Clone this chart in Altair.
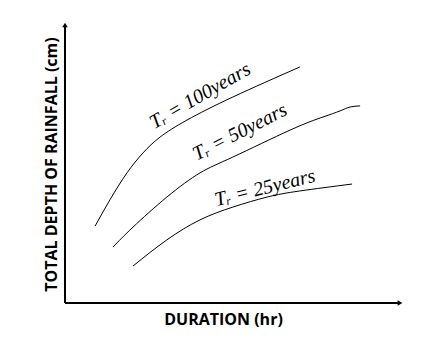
import altair as alt
import pandas as pd

# Curve values (duration, depth), arbitrary units 0-10
x100 = [0.90, 1.34, 1.85, 2.33, 2.84, 3.64, 5.01, 7.01]
y100 = [2.77, 3.71, 4.68, 5.40, 5.97, 6.58, 7.41, 8.49]
x50 = [1.43, 2.03, 3.04, 4.03, 5.01, 6.72, 7.70, 8.21, 8.51, 8.81]
y50 = [2.01, 2.73, 3.81, 4.68, 5.25, 6.22, 6.69, 6.91, 7.05, 7.09]
x25 = [2.03, 3.04, 4.03, 5.01, 6.03, 7.01, 8.57]
y25 = [1.33, 2.27, 2.99, 3.45, 3.81, 4.03, 4.28]

labels = ["Tᵣ = 100years", "Tᵣ = 50years", "Tᵣ = 25years"]
label_x = [4.03, 5.22, 5.97]
label_y = [7.45, 6.15, 4.14]
label_angle = [330, 333, 346]

rows = []
for name, xs, ys in [("100", x100, y100), ("50", x50, y50), ("25", x25, y25)]:
    for i, (a, b) in enumerate(zip(xs, ys)):
        rows.append({"series": name, "order": i, "x": a, "y": b})
curves = pd.DataFrame(rows)

lab = pd.DataFrame({"text": labels, "x": label_x, "y": label_y, "angle": label_angle})

xs = alt.Scale(domain=[0, 10], nice=False, zero=False)
ys = alt.Scale(domain=[0, 10], nice=False, zero=False)

xaxis = alt.Axis(title="DURATION (hr)", domain=False, ticks=False, labels=False, grid=False,
                 titleFont="Open Sans", titleFontSize=16, titleFontWeight="bold",
                 titleColor="black", titlePadding=8, titleX=158, titleAlign="center")
yaxis = alt.Axis(title="TOTAL DEPTH OF RAINFALL (cm)", domain=False, ticks=False, labels=False, grid=False,
                 titleFont="Open Sans", titleFontSize=16, titleFontWeight="bold",
                 titleColor="black", titlePadding=6)

lines = alt.Chart(curves).mark_line(color="black", strokeWidth=1, interpolate="natural").encode(
    x=alt.X("x:Q", scale=xs, axis=xaxis),
    y=alt.Y("y:Q", scale=ys, axis=yaxis),
    detail="series:N",
    order="order:Q",
)

axes_df = pd.DataFrame({"x": [0, 0], "x2": [10, 0], "y": [0, 0], "y2": [0, 10]})
axis_rules = alt.Chart(axes_df).mark_rule(color="black", strokeWidth=2).encode(
    x=alt.X("x:Q", scale=xs), x2="x2:Q", y=alt.Y("y:Q", scale=ys), y2="y2:Q"
)

arrows_df = pd.DataFrame({"x": [10, 0], "y": [0, 10], "shape": ["triangle-right", "triangle-up"]})
arrows = alt.Chart(arrows_df).mark_point(filled=True, color="black", size=30, opacity=1).encode(
    x=alt.X("x:Q", scale=xs), y=alt.Y("y:Q", scale=ys),
    shape=alt.Shape("shape:N", scale=None, legend=None),
)

texts = alt.Chart(lab).mark_text(font="Liberation Serif", fontStyle="italic", fontSize=20,
                                 color="black").encode(
    x=alt.X("x:Q", scale=xs), y=alt.Y("y:Q", scale=ys), text="text:N",
    angle=alt.Angle("angle:Q", scale=None),
)

chart = alt.layer(axis_rules, arrows, lines, texts).properties(
    width=335, height=278,
    padding={"left": 57, "top": 17, "right": 10, "bottom": 30},
    autosize=alt.AutoSizeParams(type="none"),
).configure_view(stroke=None)

chart.save("out.html", embed_options={"renderer": "svg", "actions": False})
